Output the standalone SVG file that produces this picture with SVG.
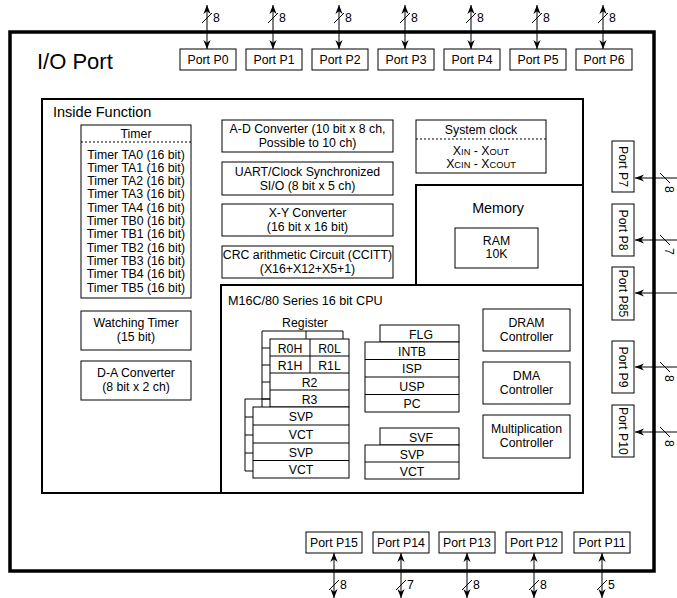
<svg xmlns="http://www.w3.org/2000/svg" width="677" height="598" viewBox="0 0 677 598">
<style>
text{font-family:"Liberation Sans",Arial,sans-serif;fill:#000;font-size:12.3px}
.c{text-anchor:middle}
.b{fill:#fff;stroke:#000;stroke-width:1}
.thick{fill:none;stroke:#000;stroke-width:2}
.ln{stroke:#000;stroke-width:1;fill:none}
.ar{stroke:#000;stroke-width:1;fill:none}
.s{font-size:9.3px}
</style>
<defs>
<marker id="ah" viewBox="0 0 10 10" refX="10" refY="5" markerWidth="9" markerHeight="9" markerUnits="userSpaceOnUse" orient="auto-start-reverse">
<path d="M0,1 L10,5 L0,9 L3,5 Z" fill="#000"/>
</marker>
</defs>
<rect x="10" y="32" width="644" height="539" fill="#fff" stroke="#000" stroke-width="3.5"/>
<text x="37" y="69" style="font-size:22px">I/O Port</text>

<g id="connectors">
<g class="ar" marker-start="url(#ah)" marker-end="url(#ah)">
<line x1="207" y1="5" x2="207" y2="49"/>
<line x1="273" y1="5" x2="273" y2="49"/>
<line x1="339" y1="5" x2="339" y2="49"/>
<line x1="405" y1="5" x2="405" y2="49"/>
<line x1="471" y1="5" x2="471" y2="49"/>
<line x1="537" y1="5" x2="537" y2="49"/>
<line x1="603" y1="5" x2="603" y2="49"/>
<line x1="334" y1="553" x2="334" y2="598"/>
<line x1="401" y1="553" x2="401" y2="598"/>
<line x1="467" y1="553" x2="467" y2="598"/>
<line x1="534" y1="553" x2="534" y2="598"/>
<line x1="602" y1="553" x2="602" y2="598"/>
</g>
<g class="ar" marker-end="url(#ah)">
<line x1="677" y1="178" x2="635" y2="178"/>
<line x1="677" y1="240" x2="635" y2="240"/>
<line x1="677" y1="293" x2="635" y2="293"/>
<line x1="677" y1="367" x2="635" y2="367"/>
<line x1="677" y1="432" x2="635" y2="432"/>
</g>
<g class="ln">
<path d="M202,23 L212,13 M268,23 L278,13 M334,23 L344,13 M400,23 L410,13 M466,23 L476,13 M532,23 L542,13 M598,23 L608,13"/>
<path d="M329,590 L339,580 M396,590 L406,580 M462,590 L472,580 M529,590 L539,580 M597,590 L607,580"/>
<path d="M660,173 L670,183 M660,235 L670,245 M660,362 L670,372 M660,427 L670,437"/>
</g>
<g>
<text x="213" y="22">8</text><text x="279" y="22">8</text><text x="345" y="22">8</text><text x="411" y="22">8</text><text x="477" y="22">8</text><text x="543" y="22">8</text><text x="609" y="22">8</text>
<text x="340" y="589">8</text><text x="407" y="589">7</text><text x="473" y="589">8</text><text x="540" y="589">8</text><text x="608" y="589">5</text>
<text transform="translate(665,186) rotate(90)">8</text>
<text transform="translate(665,248) rotate(90)">7</text>
<text transform="translate(665,375) rotate(90)">8</text>
<text transform="translate(665,440) rotate(90)">8</text>
</g>
</g>

<g id="port-p0"><rect class="b" x="180" y="49" width="56" height="21"/><text class="c" x="208" y="64">Port P0</text></g>
<g id="port-p1"><rect class="b" x="246" y="49" width="56" height="21"/><text class="c" x="274" y="64">Port P1</text></g>
<g id="port-p2"><rect class="b" x="312" y="49" width="56" height="21"/><text class="c" x="340" y="64">Port P2</text></g>
<g id="port-p3"><rect class="b" x="378" y="49" width="56" height="21"/><text class="c" x="406" y="64">Port P3</text></g>
<g id="port-p4"><rect class="b" x="444" y="49" width="56" height="21"/><text class="c" x="472" y="64">Port P4</text></g>
<g id="port-p5"><rect class="b" x="510" y="49" width="56" height="21"/><text class="c" x="538" y="64">Port P5</text></g>
<g id="port-p6"><rect class="b" x="576" y="49" width="56" height="21"/><text class="c" x="604" y="64">Port P6</text></g>

<g id="port-p7"><rect class="b" x="612" y="141" width="22" height="51"/><text class="c" transform="translate(618.5,166.5) rotate(90)">Port P7</text></g>
<g id="port-p8"><rect class="b" x="612" y="204" width="22" height="52"/><text class="c" transform="translate(618.5,230) rotate(90)">Port P8</text></g>
<g id="port-p85"><rect class="b" x="612" y="267" width="22" height="53"/><text class="c" transform="translate(618.5,293.5) rotate(90)">Port P85</text></g>
<g id="port-p9"><rect class="b" x="612" y="341" width="22" height="52"/><text class="c" transform="translate(618.5,367) rotate(90)">Port P9</text></g>
<g id="port-p10"><rect class="b" x="612" y="405" width="22" height="52"/><text class="c" transform="translate(618.5,431) rotate(90)">Port P10</text></g>

<g id="port-p15"><rect class="b" x="306" y="532" width="56" height="21"/><text class="c" x="334" y="547">Port P15</text></g>
<g id="port-p14"><rect class="b" x="373" y="532" width="56" height="21"/><text class="c" x="401" y="547">Port P14</text></g>
<g id="port-p13"><rect class="b" x="439" y="532" width="56" height="21"/><text class="c" x="467" y="547">Port P13</text></g>
<g id="port-p12"><rect class="b" x="506" y="532" width="56" height="21"/><text class="c" x="534" y="547">Port P12</text></g>
<g id="port-p11"><rect class="b" x="574" y="532" width="56" height="21"/><text class="c" x="602" y="547">Port P11</text></g>

<g id="inside-function">
<rect class="thick" x="42" y="99" width="541" height="394"/>
<text x="53" y="117" style="font-size:14.5px">Inside Function</text>
</g>

<g id="timer">
<rect class="b" x="81" y="125" width="110" height="173"/>
<text class="c" x="136" y="138">Timer</text>
<line x1="81" y1="142" x2="191" y2="142" stroke="#000" stroke-dasharray="2,2"/>
<text class="c" x="136" y="158.5">Timer TA0 (16 bit)</text>
<text class="c" x="136" y="171.8">Timer TA1 (16 bit)</text>
<text class="c" x="136" y="185.1">Timer TA2 (16 bit)</text>
<text class="c" x="136" y="198.4">Timer TA3 (16 bit)</text>
<text class="c" x="136" y="211.7">Timer TA4 (16 bit)</text>
<text class="c" x="136" y="225">Timer TB0 (16 bit)</text>
<text class="c" x="136" y="238.3">Timer TB1 (16 bit)</text>
<text class="c" x="136" y="251.6">Timer TB2 (16 bit)</text>
<text class="c" x="136" y="264.9">Timer TB3 (16 bit)</text>
<text class="c" x="136" y="278.2">Timer TB4 (16 bit)</text>
<text class="c" x="136" y="291.5">Timer TB5 (16 bit)</text>
</g>

<g id="watching-timer"><rect class="b" x="81" y="311" width="110" height="39"/><text class="c" x="136" y="327">Watching Timer</text><text class="c" x="136" y="341">(15 bit)</text></g>
<g id="da-converter"><rect class="b" x="81" y="361" width="110" height="39"/><text class="c" x="136" y="377">D-A Converter</text><text class="c" x="136" y="391">(8 bit x 2 ch)</text></g>

<g id="ad-converter"><rect class="b" x="222" y="120" width="171" height="32"/><text class="c" x="307.5" y="133">A-D Converter (10 bit x 8 ch,</text><text class="c" x="307.5" y="147">Possible to 10 ch)</text></g>
<g id="uart"><rect class="b" x="222" y="162" width="171" height="33"/><text class="c" x="307.5" y="176">UART/Clock Synchronized</text><text class="c" x="307.5" y="190">SI/O (8 bit x 5 ch)</text></g>
<g id="xy-converter"><rect class="b" x="222" y="204" width="171" height="32"/><text class="c" x="307.5" y="217">X-Y Converter</text><text class="c" x="307.5" y="231">(16 bit x 16 bit)</text></g>
<g id="crc"><rect class="b" x="222" y="246" width="171" height="32"/><text class="c" x="307.5" y="259">CRC arithmetic Circuit (CCITT)</text><text class="c" x="307.5" y="273">(X16+X12+X5+1)</text></g>

<g id="system-clock">
<rect class="b" x="416" y="120" width="130" height="53"/>
<text class="c" x="481" y="134">System clock</text>
<line x1="416" y1="139" x2="546" y2="139" stroke="#000" stroke-dasharray="2,2"/>
<text class="c" x="481" y="155">X<tspan class="s">IN</tspan> - X<tspan class="s">OUT</tspan></text>
<text class="c" x="481" y="168">X<tspan class="s">CIN</tspan> - X<tspan class="s">COUT</tspan></text>
</g>

<g id="memory">
<rect class="thick" x="416" y="185" width="167" height="100"/>
<text class="c" x="498" y="213" style="font-size:14.3px">Memory</text>
<rect class="b" x="455" y="228" width="83" height="40"/>
<text class="c" x="496.5" y="245">RAM</text>
<text class="c" x="496.5" y="258">10K</text>
</g>

<g id="cpu">
<rect class="thick" x="221" y="285" width="362" height="208"/>
<text x="228" y="305" style="font-size:12.6px">M16C/80 Series 16 bit CPU</text>
<text class="c" x="305" y="327">Register</text>
</g>

<g id="register-r">
<path class="ln" d="M262,407 L262,331 L343,331 L343,339 M306,331 L306,339 M262,348 L270,348 M262,365 L270,365 M262,382 L270,382 M262,399 L270,399"/>
<rect class="b" x="270" y="339" width="79" height="68"/>
<path class="ln" d="M270,356 L349,356 M270,373 L349,373 M270,390 L349,390 M310,339 L310,373"/>
<text class="c" x="290" y="352.5">R0H</text><text class="c" x="329.5" y="352.5">R0L</text>
<text class="c" x="290" y="369.5">R1H</text><text class="c" x="329.5" y="369.5">R1L</text>
<text class="c" x="309.5" y="386.5">R2</text>
<text class="c" x="309.5" y="403.5">R3</text>
</g>

<g id="register-svp">
<path class="ln" d="M245,471 L245,399 L270,399 M245,417 L253,417 M245,435 L253,435 M245,453 L253,453 M245,471 L253,471"/>
<rect class="b" x="253" y="407" width="96" height="71"/>
<path class="ln" d="M253,425 L349,425 M253,443 L349,443 M253,460.5 L349,460.5"/>
<text class="c" x="301" y="420.5">SVP</text>
<text class="c" x="301" y="438.5">VCT</text>
<text class="c" x="301" y="456.5">SVP</text>
<text class="c" x="301" y="473.5">VCT</text>
</g>

<g id="register-flg">
<rect class="b" x="380" y="325" width="79" height="17"/>
<text class="c" x="421" y="338.5">FLG</text>
<rect class="b" x="365" y="342" width="94" height="70"/>
<path class="ln" d="M365,359.5 L459,359.5 M365,377 L459,377 M365,394.5 L459,394.5"/>
<text class="c" x="412" y="355.5">INTB</text>
<text class="c" x="412" y="372.5">ISP</text>
<text class="c" x="412" y="390.5">USP</text>
<text class="c" x="412" y="407.5">PC</text>
</g>

<g id="register-svf">
<rect class="b" x="380" y="428" width="79" height="17"/>
<text class="c" x="421" y="441.5">SVF</text>
<rect class="b" x="365" y="445" width="94" height="34"/>
<path class="ln" d="M365,462 L459,462"/>
<text class="c" x="412" y="458.5">SVP</text>
<text class="c" x="412" y="475.5">VCT</text>
</g>

<g id="dram-controller"><rect class="b" x="483" y="309" width="87" height="42"/><text class="c" x="526.5" y="327">DRAM</text><text class="c" x="526.5" y="341">Controller</text></g>
<g id="dma-controller"><rect class="b" x="483" y="362" width="87" height="42"/><text class="c" x="526.5" y="380">DMA</text><text class="c" x="526.5" y="394">Controller</text></g>
<g id="mult-controller"><rect class="b" x="483" y="415" width="87" height="43"/><text class="c" x="526.5" y="433">Multiplication</text><text class="c" x="526.5" y="447">Controller</text></g>
</svg>
